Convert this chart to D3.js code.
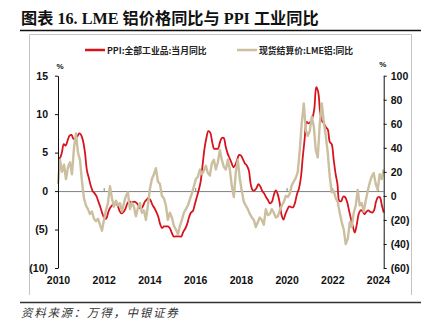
<!DOCTYPE html>
<html><head><meta charset="utf-8">
<script src="https://cdn.jsdelivr.net/npm/d3@7"></script>
<style>
html,body{margin:0;padding:0;background:#fff;}
svg{display:block;}
</style></head>
<body>
<svg id="chart" width="429" height="330"></svg>
<script>
// ---- data ----
const title = "图表  16. LME 铝价格同比与 PPI 工业同比";
const source = "资料来源：万得，中银证券";
const seriesNames = ["PPI:全部工业品:当月同比", "现货结算价:LME铝:同比"];
const yearLabels = [2010, 2012, 2014, 2016, 2018, 2020, 2022, 2024];
const leftTicks = [-10, -5, 0, 5, 10, 15];
const rightTicks = [-60, -40, -20, 0, 20, 40, 60, 80, 100];
// PPI YoY, monthly
const ppi = [
  4.3, 4.3, 5.0, 6.1, 5.9,
  6.6, 7.2, 7.3, 6.8, 6.8, 7.1, 7.5, 7.3, 6.5, 5.0, 2.7, 1.7,
  0.7, 0.0, -0.3, -0.7, -1.4, -2.1, -2.9, -3.5, -3.6, -2.8, -2.2, -1.9,
  -1.6, -1.6, -1.9, -2.6, -2.9, -2.7, -2.3, -1.6, -1.3, -1.5, -1.4, -1.4,
  -1.6, -2.0, -2.3, -2.0, -1.4, -1.1, -0.9, -1.2, -1.8, -2.2, -2.7, -3.3,
  -4.3, -4.8, -4.6, -4.6, -4.6, -4.8, -5.4, -5.9, -5.9, -5.9, -5.9, -5.9,
  -5.3, -4.9, -4.3, -3.4, -2.8, -2.6, -1.7, -0.8, 0.1, 1.2, 3.3, 5.5,
  6.9, 7.8, 7.6, 6.4, 5.5, 5.5, 5.5, 6.3, 6.9, 6.9, 5.8, 4.9,
  4.3, 3.7, 3.1, 3.4, 4.1, 4.7, 4.6, 4.1, 3.6, 3.3, 2.7, 0.9,
  0.1, 0.1, 0.4, 0.9, 0.6, 0.0, -0.3, -0.8, -1.2, -1.6, -1.4, -0.5,
  0.1, -0.4, -1.5, -3.1, -3.7, -3.0, -2.4, -2.0, -2.1, -2.1, -1.5, -0.4,
  0.3, 1.7, 4.4, 6.8, 9.0, 8.8, 9.0, 9.5, 10.7, 13.5, 12.9, 10.3,
  9.1, 8.8, 8.3, 8.0, 6.4, 6.1, 4.2, 2.3, 0.9, -1.3, -1.3, -0.7,
  -0.8, -1.4, -2.5, -3.6, -4.6, -5.4, -4.4, -3.0, -2.5, -2.6, -3.0, -2.7,
  -2.5, -2.7, -2.8, -2.5, -1.4, -0.8, -0.8, -1.8, -2.8
];
// LME aluminium spot YoY, sampled evenly over the same period
const lme = [
  10, 30, 20, 26, 14, 24, 28, 18, 40, 52, 36, 30, 12, -2, -8, -11, -15, -13, -19, -21,
  -19, -24, -29, -20, -12, -6, 8, -2, -9, -4, -8, -6, -13, -6, 0, 3, -11, -6, -9, -17,
  -10, -6, -14, -12, -20, -8, 6, 14, 18, 23, 12, 10, 0, -2, -8, -20, -14, -18, -25, -28,
  -32, -25, -20, -14, -11, -8, -3, 2, 8, 14, 16, 22, 18, 21, 25, 19, 17, 27, 30, 22,
  28, 38, 30, 24, 22, 30, 22, 8, -1, 20, 30, 14, 4, -5, -8, -11, -15, -18, -20, -26,
  -22, -18, -20, -24, -11, -16, -15, -11, -14, -18, -17, -12, -8, -5, 0, -1, 2, 9, 12, 15,
  20, 38, 61, 77, 55, 50, 54, 66, 58, 38, 32, 60, 77, 62, 50, 36, 16, 3, 4, -2,
  -5, -14, -22, -28, -40, -36, -22, -26, -14, -8, 5, -8, -6, -13, -4, 4, 11, 16, 19, 10,
  5, 18, 14, 22
];

// ---- layout ----
const svg = d3.select("#chart");
const X0 = 58, X1 = 383.7, YT = 75.7, YB = 268;
const numFont = "'Liberation Sans Narrow','Arial Narrow','Liberation Sans',Arial,sans-serif";

const yL = d3.scaleLinear().domain([-10, 15]).range([YB, YT]);
const yR = d3.scaleLinear().domain([-60, 100]).range([YB, YT]);
const xP = d3.scaleLinear().domain([0, ppi.length - 1]).range([X0, X1]);
const xM = d3.scaleLinear().domain([0, lme.length - 1]).range([X0, X1]);
const xLab = d3.scaleLinear().domain([2010, 2024]).range([X0, 378]);

// title & rules
svg.append("text").attr("x", 21).attr("y", 24)
  .attr("font-family", "'Liberation Serif','Noto Sans CJK SC',serif")
  .attr("font-weight", "bold").attr("font-size", 16.2).attr("fill", "#111")
  .text(title);
svg.append("line").attr("x1", 20).attr("x2", 421).attr("y1", 30.5).attr("y2", 30.5)
  .attr("stroke", "#111").attr("stroke-width", 1.3);
svg.append("line").attr("x1", 20).attr("x2", 421).attr("y1", 302.5).attr("y2", 302.5)
  .attr("stroke", "#333").attr("stroke-width", 1.3);
// frame (no bottom edge)
svg.append("path").attr("d", "M29.5,295 V34.5 H411.5 V295")
  .attr("fill", "none").attr("stroke", "#c4c4c4").attr("stroke-width", 1);

svg.append("text").attr("x", 21).attr("y", 317)
  .attr("font-family", "'Noto Sans CJK SC',sans-serif").attr("font-style", "italic")
  .attr("font-size", 11.5).attr("letter-spacing", 1.7).attr("fill", "#333")
  .text(source);

// legend
const legColors = ["#d7131d", "#cbbf9f"];
const legX = [85, 237];
seriesNames.forEach((n, i) => {
  svg.append("line").attr("x1", legX[i]).attr("x2", legX[i] + 20)
    .attr("y1", 50).attr("y2", 50).attr("stroke", legColors[i]).attr("stroke-width", 2.5);
  svg.append("text").attr("x", legX[i] + 22).attr("y", 53.5)
    .attr("font-family", "'Noto Sans CJK SC',sans-serif").attr("font-weight", "bold")
    .attr("font-size", 8.8).attr("fill", "#222").text(n);
});

const fmt = d => d < 0 ? `(${-d})` : `${d}`;

// zero line with inner ticks
const xZero = svg.append("g").attr("transform", `translate(0,${yL(0)})`)
  .call(d3.axisBottom(xLab).tickValues(yearLabels).tickSizeInner(-3).tickSizeOuter(0).tickFormat(""));
xZero.select(".domain").attr("d", `M${X0},0.5H${X1}`).attr("stroke", "#808080");
xZero.selectAll(".tick line").attr("stroke", "#808080");

// year labels
const xBot = svg.append("g").attr("transform", `translate(0,${YB})`)
  .call(d3.axisBottom(xLab).tickValues(yearLabels).tickSize(0).tickPadding(8.5).tickFormat(d3.format("d")));
xBot.select(".domain").remove();
xBot.selectAll("text").attr("font-family", numFont).attr("font-weight", "bold")
  .attr("font-size", 10.5).attr("fill", "#111");

// series
const linePPI = d3.line().x((d, i) => xP(i)).y(d => yL(d)).curve(d3.curveCatmullRom.alpha(0.5));
const lineLME = d3.line().x((d, i) => xM(i)).y(d => yR(d));
svg.append("path").datum(ppi).attr("d", linePPI)
  .attr("fill", "none").attr("stroke", legColors[0]).attr("stroke-width", 1.8);
svg.append("path").datum(lme).attr("d", lineLME)
  .attr("fill", "none").attr("stroke", legColors[1]).attr("stroke-width", 2.4)
  .attr("stroke-linejoin", "round");

// left axis
const aL = svg.append("g").attr("transform", `translate(${X0},0)`)
  .call(d3.axisLeft(yL).tickValues(leftTicks).tickSizeInner(3).tickSizeOuter(0).tickPadding(7).tickFormat(fmt));
aL.selectAll("text").attr("font-family", numFont).attr("font-weight", "bold")
  .attr("font-size", 10.5).attr("fill", "#111");
aL.selectAll("path,line").attr("stroke", "#111");

// right axis
const aR = svg.append("g").attr("transform", `translate(${X1},0)`)
  .call(d3.axisRight(yR).tickValues(rightTicks).tickSizeInner(3).tickSizeOuter(0).tickPadding(4).tickFormat(fmt));
aR.selectAll("text").attr("font-family", numFont).attr("font-weight", "bold")
  .attr("font-size", 10.5).attr("fill", "#111");
aR.selectAll("path,line").attr("stroke", "#111");

// unit labels
[[X0 + 2, 69], [X1 - 1, 67]].forEach(p => {
  svg.append("text").attr("x", p[0]).attr("y", p[1]).attr("text-anchor", "middle")
    .attr("font-family", numFont).attr("font-weight", "bold").attr("font-size", 8)
    .attr("fill", "#111").text("%");
});
</script>
</body></html>
